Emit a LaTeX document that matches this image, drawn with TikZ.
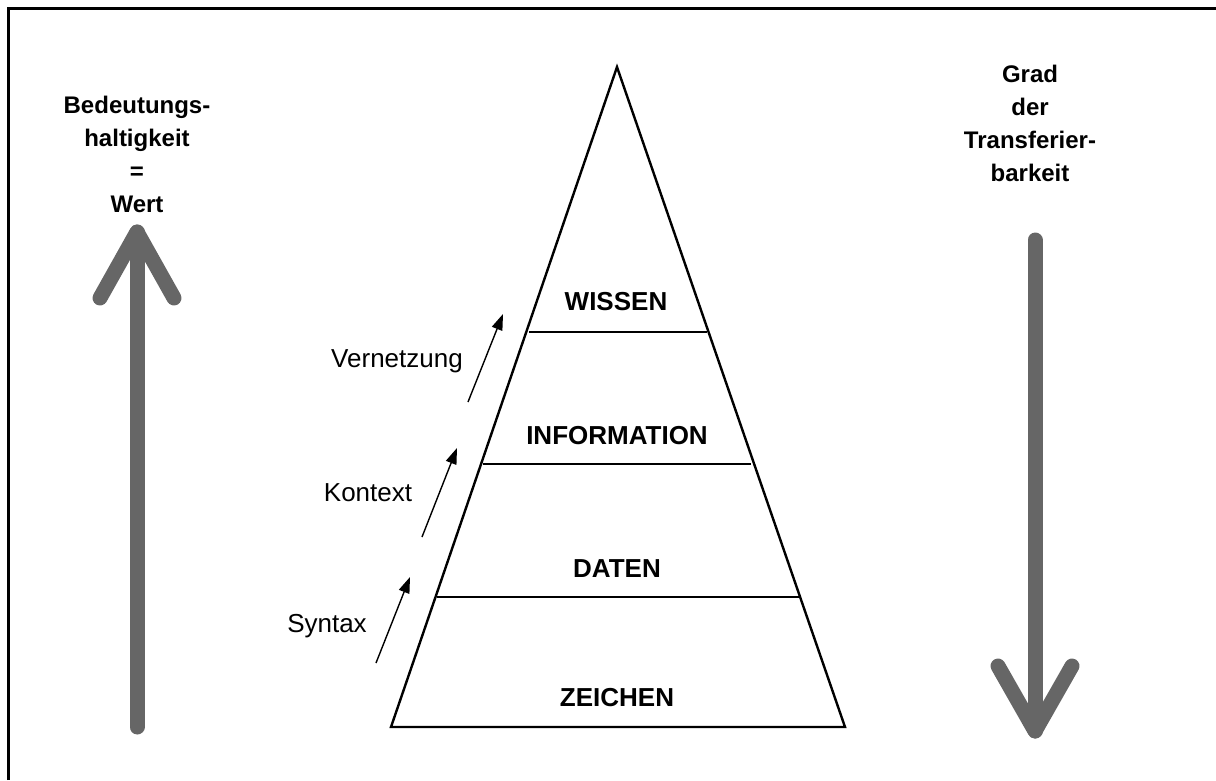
\documentclass[tikz,border=0pt]{standalone}
\usepackage{fontspec}
\setmainfont{Liberation Sans}
\usetikzlibrary{arrows.meta}
\begin{document}
\begin{tikzpicture}[x=1pt,y=-1pt,
  frame/.style={line width=3pt},
  layer/.style={line width=2.4pt},
  bigarrow/.style={line width=15pt,draw=black!60,line cap=round,line join=round},
  steparrow/.style={line width=1.4pt,-{Triangle[length=16pt,width=11pt]}},
  levellabel/.style={font=\fontsize{26}{30}\selectfont\bfseries,inner sep=0pt},
  steplabel/.style={font=\fontsize{26}{30}\selectfont,inner sep=0pt},
  sidelabel/.style={font=\fontsize{24}{33}\selectfont\bfseries,align=center,inner sep=0pt}]
\useasboundingbox (0,0) rectangle (1216,780);

% outer frame (left and top edges)
\draw[frame] (8,780) -- (8,8) -- (1216,8);

% pyramid outline
\coordinate (apex) at (617,67);
\coordinate (bl) at (391,727);
\coordinate (br) at (845,727);
\draw[layer,line join=miter] (bl) -- (apex) -- (br) -- cycle;

% layer boundaries
\coordinate (w1) at (529,332); \coordinate (w2) at (707,332);
\coordinate (i1) at (483,464); \coordinate (i2) at (751,464);
\coordinate (d1) at (437,597); \coordinate (d2) at (799,597);
\draw[layer] (w1) -- (w2);
\draw[layer] (i1) -- (i2);
\draw[layer] (d1) -- (d2);

% level names
\node[levellabel] (wissen) at (616,302) {WISSEN};
\node[levellabel] (information) at (617,436) {INFORMATION};
\node[levellabel] (daten) at (617,569) {DATEN};
\node[levellabel] (zeichen) at (617,698) {ZEICHEN};

% transitions between levels
\coordinate (s0) at (376,663); \coordinate (s1) at (410,577);
\coordinate (k0) at (422,537); \coordinate (k1) at (457,448);
\coordinate (v0) at (468,402); \coordinate (v1) at (503,314);
\draw[steparrow] (s0) -- (s1);
\draw[steparrow] (k0) -- (k1);
\draw[steparrow] (v0) -- (v1);
\node[steplabel] (syntax) at (327,626) {Syntax};
\node[steplabel] (kontext) at (368,493) {Kontext};
\node[steplabel] (vernetzung) at (397,361) {Vernetzung};

% left: meaning / value increases upward
\node[sidelabel] (wert) at (137,154) {Bedeutungs-\\haltigkeit\\=\\Wert};
\coordinate (lb) at (137,727);
\coordinate (lt) at (137,232);
\coordinate (la) at (100,298);
\coordinate (lc) at (174,298);
\draw[bigarrow] (lb) -- (lt);
\draw[bigarrow] (la) -- (lt) -- (lc);

% right: transferability increases downward
\node[sidelabel] (transfer) at (1030,123) {Grad\\der\\Transferier-\\barkeit};
\coordinate (rt) at (1035,240);
\coordinate (rb) at (1035,731);
\coordinate (ra) at (998,666);
\coordinate (rc) at (1072,666);
\draw[bigarrow] (rt) -- (rb);
\draw[bigarrow] (ra) -- (rb) -- (rc);
\end{tikzpicture}
\end{document}
